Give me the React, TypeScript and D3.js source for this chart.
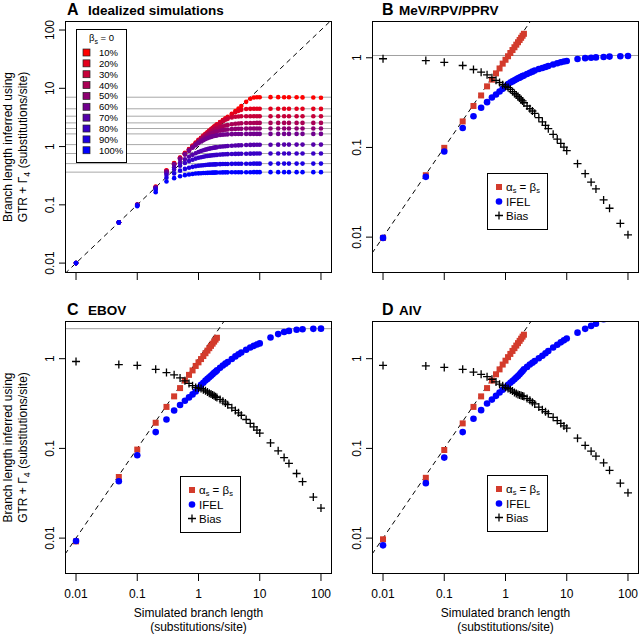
import React from "react";
import * as d3 from "d3";

// simulated branch lengths (x) shared by all panels
const simX = [0.01, 0.05, 0.1, 0.2, 0.3, 0.4, 0.5, 0.6, 0.7, 0.8, 0.9, 1, 1.1, 1.2, 1.3, 1.4, 1.5, 1.6, 1.7, 1.8, 1.9, 2,
  2.25, 2.5, 2.75, 3, 3.5, 4, 4.5, 5, 6, 7, 8, 9, 10, 15, 20, 25, 30, 40, 50, 75, 100];
const alphaBetaX = simX.slice(0, 22);

// panel A: idealized simulations
const idealLabels = ["10%", "20%", "30%", "40%", "50%", "60%", "70%", "80%", "90%", "100%"];
const idealAsymptotes = [7.03, 4.45, 3.32, 2.55, 2.04, 1.65, 1.08, 0.76, 0.51, 0.364];
const ideal10 = [0.01, 0.05, 0.1, 0.205, 0.39, 0.52, 0.65, 0.78, 0.91, 1.04, 1.17, 1.3, 1.42, 1.54, 1.65, 1.76, 1.88, 1.98, 2.09, 2.2, 2.3, 2.4,
  2.63, 2.85, 3.05, 3.24, 3.64, 4.08, 4.5, 4.95, 5.85, 6.6, 6.95, 7.02, 7.03, 7.05, 7.05, 7.03, 7.03, 7.0, 6.98, 6.95, 6.88];
const ideal20 = [0.01, 0.05, 0.1, 0.2, 0.385, 0.51, 0.64, 0.77, 0.9, 1.02, 1.15, 1.28, 1.4, 1.52, 1.63, 1.74, 1.85, 1.96, 2.06, 2.17, 2.27, 2.37,
  2.6, 2.81, 3.0, 3.19, 3.55, 3.87, 4.1, 4.27, 4.4, 4.44, 4.45, 4.45, 4.45, 4.46, 4.46, 4.45, 4.45, 4.45, 4.45, 4.44, 4.43];
const ideal30 = [0.01, 0.05, 0.1, 0.2, 0.38, 0.505, 0.635, 0.76, 0.89, 1.01, 1.14, 1.27, 1.39, 1.51, 1.62, 1.73, 1.84, 1.94, 2.04, 2.13, 2.23, 2.32,
  2.53, 2.72, 2.88, 2.99, 3.15, 3.24, 3.29, 3.31, 3.32, 3.32, 3.32, 3.32, 3.32, 3.32, 3.32, 3.32, 3.32, 3.32, 3.32, 3.32, 3.31];
const ideal40 = [0.01, 0.05, 0.1, 0.2, 0.377, 0.502, 0.626, 0.751, 0.875, 0.994, 1.12, 1.237, 1.342, 1.446, 1.544, 1.635, 1.72, 1.8, 1.866, 1.932, 1.99, 2.045,
  2.152, 2.226, 2.295, 2.34, 2.41, 2.46, 2.487, 2.509, 2.53, 2.538, 2.542, 2.546, 2.548, 2.55, 2.55, 2.55, 2.55, 2.55, 2.55, 2.55, 2.55];
const ideal50 = [0.01, 0.05, 0.1, 0.2, 0.372, 0.495, 0.619, 0.741, 0.861, 0.979, 1.092, 1.2, 1.291, 1.381, 1.46, 1.532, 1.597, 1.653, 1.701, 1.742, 1.774, 1.806,
  1.869, 1.912, 1.94, 1.96, 1.99, 2.009, 2.018, 2.026, 2.034, 2.037, 2.038, 2.04, 2.04, 2.04, 2.04, 2.04, 2.04, 2.04, 2.04, 2.04, 2.04];
const ideal60 = [0.01, 0.05, 0.1, 0.198, 0.367, 0.489, 0.61, 0.728, 0.842, 0.952, 1.05, 1.144, 1.221, 1.286, 1.344, 1.393, 1.429, 1.465, 1.498, 1.517, 1.536, 1.555,
  1.581, 1.6, 1.614, 1.62, 1.632, 1.639, 1.643, 1.645, 1.648, 1.65, 1.65, 1.65, 1.65, 1.65, 1.65, 1.65, 1.65, 1.65, 1.65, 1.65, 1.65];
const ideal70 = [0.01, 0.05, 0.1, 0.195, 0.344, 0.442, 0.528, 0.603, 0.667, 0.721, 0.767, 0.806, 0.837, 0.863, 0.886, 0.905, 0.921, 0.935, 0.947, 0.958, 0.968, 0.976,
  0.992, 1.005, 1.015, 1.022, 1.035, 1.043, 1.05, 1.056, 1.063, 1.067, 1.07, 1.072, 1.074, 1.077, 1.078, 1.08, 1.08, 1.08, 1.08, 1.08, 1.08];
const ideal80 = [0.01, 0.05, 0.099, 0.19, 0.324, 0.405, 0.47, 0.522, 0.5625, 0.595, 0.621, 0.641, 0.657, 0.67, 0.68, 0.689, 0.697, 0.703, 0.708, 0.713, 0.717, 0.72,
  0.728, 0.734, 0.738, 0.741, 0.745, 0.748, 0.75, 0.752, 0.754, 0.756, 0.757, 0.758, 0.758, 0.76, 0.76, 0.76, 0.76, 0.76, 0.76, 0.76, 0.76];
const ideal90 = [0.01, 0.0498, 0.098, 0.182, 0.291, 0.3465, 0.386, 0.414, 0.434, 0.449, 0.46, 0.468, 0.474, 0.479, 0.483, 0.486, 0.489, 0.491, 0.493, 0.494, 0.495, 0.496,
  0.499, 0.501, 0.502, 0.503, 0.505, 0.506, 0.507, 0.507, 0.508, 0.508, 0.509, 0.509, 0.509, 0.51, 0.51, 0.51, 0.51, 0.51, 0.51, 0.51, 0.51];
const ideal100 = [0.01, 0.0495, 0.095, 0.165, 0.252, 0.287, 0.309, 0.323, 0.332, 0.339, 0.344, 0.347, 0.349, 0.351, 0.352, 0.354, 0.355, 0.356, 0.357, 0.357, 0.358, 0.358,
  0.359, 0.36, 0.361, 0.361, 0.362, 0.362, 0.363, 0.363, 0.363, 0.363, 0.364, 0.364, 0.364, 0.364, 0.364, 0.364, 0.364, 0.364, 0.364, 0.364, 0.364];
const idealSeries = [ideal10, ideal20, ideal30, ideal40, ideal50, ideal60, ideal70, ideal80, ideal90, ideal100];

// panel B: MeV/RPV/PPRV
const mevAsymptote = 1.06;
const mevAlphaBeta = [0.0098, 0.049, 0.099, 0.195, 0.29, 0.38, 0.48, 0.57, 0.67, 0.76, 0.86, 0.95, 1.04, 1.13, 1.22, 1.31, 1.4, 1.49, 1.58, 1.67, 1.76, 1.85];
const mevIfel = [0.0098, 0.047, 0.09, 0.165, 0.223, 0.277, 0.32, 0.36, 0.39, 0.42, 0.45, 0.48, 0.51, 0.53, 0.545, 0.56, 0.575, 0.59, 0.6, 0.615, 0.625, 0.635,
  0.66, 0.68, 0.7, 0.72, 0.75, 0.77, 0.79, 0.81, 0.84, 0.87, 0.89, 0.91, 0.92, 0.97, 0.99, 1.0, 1.01, 1.02, 1.03, 1.04, 1.045];
const mevBias = [0.975, 0.93, 0.89, 0.82, 0.74, 0.69, 0.645, 0.6, 0.56, 0.53, 0.5, 0.48, 0.465, 0.445, 0.42, 0.4, 0.385, 0.37, 0.355, 0.34, 0.33, 0.315,
  0.29, 0.27, 0.255, 0.24, 0.215, 0.193, 0.176, 0.162, 0.14, 0.124, 0.111, 0.101, 0.092, 0.066, 0.051, 0.041, 0.0345, 0.026, 0.021, 0.0142, 0.0106];

// panel C: EBOV
const ebovAsymptote = 2.16;
const ebovAlphaBeta = [0.0092, 0.048, 0.097, 0.193, 0.29, 0.38, 0.47, 0.57, 0.66, 0.74, 0.83, 0.91, 0.99, 1.07, 1.15, 1.23, 1.31, 1.39, 1.47, 1.55, 1.63, 1.71];
const ebovIfel = [0.0093, 0.043, 0.084, 0.152, 0.21, 0.264, 0.305, 0.34, 0.37, 0.4, 0.43, 0.47, 0.51, 0.54, 0.57, 0.595, 0.62, 0.645, 0.67, 0.695, 0.715, 0.74,
  0.79, 0.84, 0.88, 0.92, 0.99, 1.06, 1.12, 1.17, 1.26, 1.33, 1.39, 1.44, 1.48, 1.72, 1.88, 1.98, 2.04, 2.1, 2.13, 2.15, 2.16];
const ebovBias = [0.93, 0.86, 0.84, 0.76, 0.7, 0.66, 0.61, 0.567, 0.53, 0.5, 0.478, 0.47, 0.464, 0.45, 0.438, 0.425, 0.413, 0.403, 0.394, 0.386, 0.376, 0.37,
  0.351, 0.336, 0.32, 0.307, 0.283, 0.265, 0.249, 0.234, 0.21, 0.19, 0.174, 0.16, 0.148, 0.115, 0.094, 0.079, 0.068, 0.0525, 0.0426, 0.0287, 0.0216];

// panel D: AIV
const aivAsymptote = 3.25;
const aivAlphaBeta = [0.0097, 0.047, 0.096, 0.19, 0.29, 0.38, 0.47, 0.57, 0.67, 0.76, 0.86, 0.95, 1.04, 1.13, 1.22, 1.31, 1.4, 1.49, 1.58, 1.67, 1.76, 1.85];
const aivIfel = [0.0083, 0.041, 0.079, 0.152, 0.214, 0.267, 0.316, 0.35, 0.385, 0.42, 0.45, 0.48, 0.51, 0.54, 0.565, 0.59, 0.615, 0.64, 0.67, 0.7, 0.73, 0.76,
  0.81, 0.86, 0.9, 0.94, 1.01, 1.08, 1.15, 1.22, 1.33, 1.43, 1.52, 1.6, 1.68, 1.95, 2.15, 2.32, 2.45, 2.75, 2.87, 3.1, 3.16];
const aivBias = [0.84, 0.83, 0.8, 0.76, 0.71, 0.67, 0.63, 0.59, 0.55, 0.52, 0.5, 0.48, 0.465, 0.45, 0.435, 0.42, 0.41, 0.4, 0.394, 0.389, 0.384, 0.38,
  0.36, 0.344, 0.327, 0.313, 0.289, 0.27, 0.256, 0.244, 0.222, 0.204, 0.19, 0.178, 0.168, 0.13, 0.108, 0.093, 0.082, 0.069, 0.057, 0.041, 0.032];

const font = "'Liberation Sans', Arial, Helvetica, sans-serif";
const xDomain: [number, number] = [Math.pow(10, -2.18), Math.pow(10, 2.18)];
const xTicks = [0.01, 0.1, 1, 10, 100];
const redSq = "#d33b2c";
const blueDot = "#0000ff";

type Sc = d3.ScaleLogarithmic<number, number>;

function Panel(props: any) {
  const { id, left, top, width, height, yDomain, yTicks, letter, title, xLabels, yTitle, under, draw } = props;
  const x = d3.scaleLog().domain(xDomain).range([left, left + width]);
  const y = d3.scaleLog().domain(yDomain).range([top + height, top]);
  const bottom = top + height;
  const midY = top + height / 2;
  const diag = d3.line<number>().x((d) => x(d)).y((d) => y(d))(xDomain);
  const lx = left < 200 ? 67 : 382;
  return (
    <g>
      <defs>
        <clipPath id={id}>
          <rect x={left} y={top} width={width} height={height} />
        </clipPath>
      </defs>
      <g clipPath={`url(#${id})`}>
        {under(x, y)}
        <path d={diag || ""} stroke="#000" strokeWidth={1} strokeDasharray="5,4" fill="none" />
        {draw(x, y)}
      </g>
      <rect x={left + 0.5} y={top + 0.5} width={width - 1} height={height - 1} fill="none" stroke="#000" strokeWidth={1} />
      {xTicks.map((t) => (
        <g key={"x" + t}>
          <line x1={x(t)} x2={x(t)} y1={bottom} y2={bottom + 7} stroke="#000" />
          {xLabels && (
            <text x={x(t)} y={bottom + 24} textAnchor="middle" fontSize={12}>{String(t)}</text>
          )}
        </g>
      ))}
      {yTicks.map((t: number) => (
        <g key={"y" + t}>
          <line x1={left - 6} x2={left} y1={y(t)} y2={y(t)} stroke="#000" />
          <text transform={`translate(${left - 11},${y(t)}) rotate(-90)`} textAnchor="middle" fontSize={12}>{String(t)}</text>
        </g>
      ))}
      <text x={lx} y={top - 6} fontSize={16} fontWeight="bold">{letter}</text>
      <text x={lx + (left < 200 ? 21 : 17)} y={top - 6} fontSize={13.5} fontWeight="bold">{title}</text>
      {yTitle && (
        <g>
          <text transform={`translate(12,${midY}) rotate(-90)`} textAnchor="middle" fontSize={12}>Branch length inferred using</text>
          <text transform={`translate(27,${midY}) rotate(-90)`} textAnchor="middle" fontSize={12}>
            GTR + Γ<tspan dy={3} fontSize={9}>4</tspan><tspan dy={-3}> (substitutions/site)</tspan>
          </text>
        </g>
      )}
      {xLabels && (
        <g>
          <text x={x(1)} y={617} textAnchor="middle" fontSize={12}>Simulated branch length</text>
          <text x={x(1)} y={631} textAnchor="middle" fontSize={12}>(substitutions/site)</text>
        </g>
      )}
    </g>
  );
}

function Plus({ cx, cy }: { cx: number; cy: number }) {
  const s = 4;
  return (
    <path d={`M${cx - s},${cy}H${cx + s}M${cx},${cy - s}V${cy + s}`} stroke="#000" strokeWidth={1.3} />
  );
}

function asymLine(asym: number) {
  return (x: Sc, y: Sc) => (
    <line x1={0} x2={640} y1={y(asym)} y2={y(asym)} stroke="#a0a0a0" strokeWidth={1} />
  );
}

function virusDraw(alphaBeta: number[], ifel: number[], bias: number[]) {
  return (x: Sc, y: Sc) => (
    <g>
      {alphaBetaX.map((v, i) => (
        <rect key={"r" + i} x={x(v) - 3} y={y(alphaBeta[i]) - 3} width={6} height={6} fill={redSq} />
      ))}
      {simX.map((v, i) => (
        <circle key={"b" + i} cx={x(v)} cy={y(ifel[i])} r={3.3} fill={blueDot} />
      ))}
      {simX.map((v, i) => (
        <Plus key={"p" + i} cx={x(v)} cy={y(bias[i])} />
      ))}
    </g>
  );
}

function VirusLegend({ left, top }: { left: number; top: number }) {
  return (
    <g fontSize={11.5}>
      <rect x={left + 0.5} y={top + 0.5} width={60} height={56} fill="#fff" stroke="#000" />
      <rect x={left + 9} y={top + 11} width={6} height={6} fill={redSq} />
      <text x={left + 19} y={top + 18}>
        α<tspan dy={2} fontSize={7.5}>s</tspan><tspan dy={-2}> = β</tspan><tspan dy={2} fontSize={7.5}>s</tspan>
      </text>
      <circle cx={left + 12} cy={top + 28.5} r={3.3} fill={blueDot} />
      <text x={left + 19} y={top + 32.5}>IFEL</text>
      <Plus cx={left + 12} cy={top + 42.5} />
      <text x={left + 19} y={top + 46.5}>Bias</text>
    </g>
  );
}

export default function App() {
  const colors = idealLabels.map((_, i) => d3.interpolateRgb("#ff0000", "#0000ff")(i / 9));
  const idealLines = (x: Sc, y: Sc) => (
    <g>
      {idealAsymptotes.map((a, i) => (
        <line key={"g" + i} x1={0} x2={640} y1={y(a)} y2={y(a)} stroke="#a8a8a8" strokeWidth={1} />
      ))}
    </g>
  );
  const drawIdeal = (x: Sc, y: Sc) => (
    <g>
      {idealSeries.map((s, k) => (
        <g key={"s" + k} fill={colors[k]}>
          {simX.map((v, i) => (
            <circle key={i} cx={x(v)} cy={y(s[i])} r={2.3} />
          ))}
        </g>
      ))}
    </g>
  );
  return (
    <div style={{ position: "absolute", left: 0, top: 0 }}>
      <svg width={640} height={634} fontFamily={font} style={{ display: "block", background: "#fff" }}>
        <Panel id="pa" left={65} top={21} width={267} height={252}
          yDomain={[Math.pow(10, -2.17), Math.pow(10, 2.155)]} yTicks={[0.01, 0.1, 1, 10, 100]}
          letter="A" title="Idealized simulations" xLabels={false} yTitle={true}
          under={idealLines} draw={drawIdeal} />
        <Panel id="pb" left={372} top={21} width={267} height={252}
          yDomain={[Math.pow(10, -2.4), Math.pow(10, 0.41)]} yTicks={[0.01, 0.1, 1]}
          letter="B" title="MeV/RPV/PPRV" xLabels={false} yTitle={false}
          under={asymLine(mevAsymptote)} draw={virusDraw(mevAlphaBeta, mevIfel, mevBias)} />
        <Panel id="pc" left={65} top={321} width={267} height={253}
          yDomain={[Math.pow(10, -2.4), Math.pow(10, 0.42)]} yTicks={[0.01, 0.1, 1]}
          letter="C" title="EBOV" xLabels={true} yTitle={true}
          under={asymLine(ebovAsymptote)} draw={virusDraw(ebovAlphaBeta, ebovIfel, ebovBias)} />
        <Panel id="pd" left={372} top={321} width={267} height={253}
          yDomain={[Math.pow(10, -2.4), Math.pow(10, 0.42)]} yTicks={[0.01, 0.1, 1]}
          letter="D" title="AIV" xLabels={true} yTitle={false}
          under={asymLine(aivAsymptote)} draw={virusDraw(aivAlphaBeta, aivIfel, aivBias)} />
        {/* panel A legend */}
        <g fontSize={9.5}>
          <rect x={76.5} y={29.5} width={50} height={133} fill="#fff" stroke="#000" />
          <text x={101.5} y={41} textAnchor="middle">
            β<tspan dy={2.5} fontSize={7}>s</tspan><tspan dy={-2.5}> = 0</tspan>
          </text>
          {idealLabels.map((l, i) => (
            <g key={l}>
              <rect x={83} y={49 + i * 10.86} width={7} height={7} fill={colors[i]} stroke="#222" strokeWidth={0.7} />
              <text x={99} y={56 + i * 10.86}>{l}</text>
            </g>
          ))}
        </g>
        <VirusLegend left={487} top={173} />
        <VirusLegend left={180} top={476} />
        <VirusLegend left={487} top={475} />
      </svg>
    </div>
  );
}
